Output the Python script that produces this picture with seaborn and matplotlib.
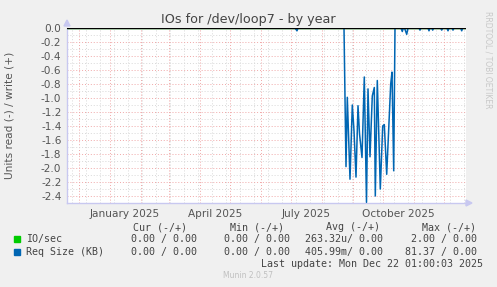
import numpy as np
import pandas as pd
import matplotlib
matplotlib.use("Agg")
import matplotlib.pyplot as plt
import matplotlib.dates as mdates
from matplotlib.patches import Rectangle
import seaborn as sns

# ---------------- data ----------------
# day offsets relative to 2025-01-01 and read values (plotted negative)
req_days = [-43, 185, 187, 188, 234, 234.6, 236, 237.3, 240, 242.3, 244, 246, 248, 249.5, 252,
            254.3, 256.5, 258, 260, 262.3, 264.3, 265.3, 267.3, 270.3, 272.7, 274.3, 276.7,
            280.7, 282, 283.7, 285,
            291, 292.3, 293.3, 294.5, 296.7, 298,
            309, 310, 311, 318, 319, 320, 321.8, 322.7, 323.6,
            330.7, 331.7, 332.7, 337, 338, 339, 342, 343, 344, 350.7, 351.7, 352.7, 356]
req_vals = [0.0, 0.0, -0.04, 0.0, 0.0, -0.6, -1.98, -0.99, -2.16, -1.10, -1.47, -2.13, -1.11,
            -1.51, -1.85, -0.70, -2.49, -0.87, -1.84, -0.97, -0.85, -2.40, -0.75, -2.30, -1.40,
            -1.38, -2.09, -0.80, -0.63, -2.04, 0.0,
            0.0, -0.05, 0.0, 0.0, -0.09, 0.0,
            0.0, -0.03, 0.0, 0.0, -0.04, 0.0, 0.0, -0.03, 0.0,
            0.0, -0.03, 0.0, 0.0, -0.04, 0.0, 0.0, -0.03, 0.0, 0.0, -0.04, 0.0, 0.0]
io_days = [-43, 356]
io_vals = [0.0, 0.0]

ytick_vals = [0.0, -0.2, -0.4, -0.6, -0.8, -1.0, -1.2, -1.4, -1.6, -1.8, -2.0, -2.2, -2.4]
ytick_labels = ["0.0", "-0.2", "-0.4", "-0.6", "-0.8", "-1.0", "-1.2", "-1.4", "-1.6",
                "-1.8", "-2.0", "-2.2", "-2.4"]
month_labels = ["January 2025", "April 2025", "July 2025", "October 2025"]
month_label_dates = ["2025-01-16", "2025-04-16", "2025-07-16", "2025-10-16"]

legend_names = ["IO/sec", "Req Size (KB)"]
legend_colors = ["#00CC00", "#0066B3"]
legend_headers = ["Cur (-/+)", "Min (-/+)", "Avg (-/+)", "Max (-/+)"]
legend_rows = [["0.00 / 0.00", "0.00 / 0.00", "263.32u/ 0.00", "2.00 / 0.00"],
               ["0.00 / 0.00", "0.00 / 0.00", "405.99m/ 0.00", "81.37 / 0.00"]]
title = "IOs for /dev/loop7 - by year"
ylabel = "Units read (-) / write (+)"
last_update = "Last update: Mon Dec 22 01:00:03 2025"
footer = "Munin 2.0.57"
side = "RRDTOOL / TOBI OETIKER"

# ---------------- figure ----------------
sns.set_style("white")
plt.rcParams["axes.unicode_minus"] = False
plt.rcParams["font.family"] = ["DejaVu Sans"]

W, H = 497, 287
fig = plt.figure(figsize=(W / 100, H / 100), dpi=100, facecolor="#F0F0F0")

def fx(x):
    return x / W

def fy(y):
    return 1 - y / H

L, R, T, B = 67, 466, 28, 203
ax = fig.add_axes([fx(L), fy(B), fx(R) - fx(L), fy(T) - fy(B)])
ax.set_facecolor("white")

base = pd.Timestamp("2025-01-01")
req_df = pd.DataFrame({"date": base + pd.to_timedelta(req_days, unit="D"),
                       "value": req_vals})
io_df = pd.DataFrame({"date": base + pd.to_timedelta(io_days, unit="D"),
                      "value": io_vals})

sns.lineplot(data=io_df, x="date", y="value", ax=ax, color=legend_colors[0],
             linewidth=1.0, zorder=3)
sns.lineplot(data=req_df, x="date", y="value", ax=ax, color=legend_colors[1],
             linewidth=1.1, zorder=4)
ax.axhline(0, color="black", linewidth=1.0, zorder=5)

ax.set_xlim(base + pd.Timedelta(days=-43), base + pd.Timedelta(days=356))
ax.set_ylim(-2.5, 0.0)

# grid
ax.set_yticks(ytick_vals)
ax.set_yticklabels(ytick_labels)
ax.set_yticks(np.arange(-2.5, 0.0, 0.1), minor=True)
ax.xaxis.set_major_locator(mdates.MonthLocator())
ax.xaxis.set_minor_locator(mdates.WeekdayLocator(byweekday=mdates.SU, interval=2))
ax.xaxis.set_major_formatter(plt.NullFormatter())
ax.grid(which="minor", color="#D8D8D8", linestyle=(0, (1, 2)), linewidth=0.7, zorder=0)
ax.grid(which="major", color="#F0A8A8", linestyle=(0, (1, 2)), linewidth=0.7, zorder=1)
ax.set_axisbelow(True)

ax.tick_params(axis="y", which="both", length=0, labelsize=7.6, labelcolor="#555555", pad=4)
ax.tick_params(axis="x", which="major", length=3, color="#E88080", width=0.8, direction="out")
ax.tick_params(axis="x", which="minor", length=2, color="#BBBBBB", width=0.8, direction="out")

for d, lab in zip(month_label_dates, month_labels):
    ax.text(pd.Timestamp(d), -0.035, lab, transform=ax.get_xaxis_transform(),
            ha="center", va="top", fontsize=7.6, color="#555555")

ax.set_xlabel("")
ax.set_ylabel("")
for s in ["top", "right"]:
    ax.spines[s].set_visible(False)
for s in ["left", "bottom"]:
    ax.spines[s].set_color("#C8C8F0")
    ax.spines[s].set_linewidth(1.0)

# axis arrows
fig.patches.append(plt.Polygon([[fx(L - 3), fy(T - 2)], [fx(L + 3), fy(T - 2)], [fx(L), fy(T - 8)]],
                               closed=True, transform=fig.transFigure, color="#C8C8F0"))
fig.patches.append(plt.Polygon([[fx(R), fy(B - 3)], [fx(R), fy(B + 3)], [fx(R + 6), fy(B)]],
                               closed=True, transform=fig.transFigure, color="#C8C8F0"))

# texts
fig.text(fx(248), fy(19), title, ha="center", va="center", fontsize=9.2, color="#444444")
fig.text(fx(10), fy(115), ylabel, ha="center", va="center", rotation=90,
         fontsize=7.6, color="#555555")
fig.text(fx(488), fy(60), side, ha="center", va="center", rotation=270,
         fontsize=5.5, color="#C8C8C8")

mono = "DejaVu Sans Mono"
mfs = 7.2
header_right = [187, 284, 380, 476]
value_right = [197, 290, 383, 477]
for h, xr in zip(legend_headers, header_right):
    fig.text(fx(xr), fy(227), h, ha="right", va="center", family=mono, fontsize=mfs,
             color="#444444")
row_y = [239, 252]
for name, col, vals, y in zip(legend_names, legend_colors, legend_rows, row_y):
    fig.patches.append(Rectangle((fx(14), fy(y + 3)), fx(6), 6 / H, transform=fig.transFigure,
                                 color=col))
    fig.text(fx(26), fy(y), name, ha="left", va="center", family=mono, fontsize=mfs,
             color="#444444")
    for v, xr in zip(vals, value_right):
        fig.text(fx(xr), fy(y), v, ha="right", va="center", family=mono, fontsize=mfs,
                 color="#444444")
fig.text(fx(483), fy(264), last_update, ha="right", va="center", family=mono, fontsize=mfs,
         color="#444444")
fig.text(fx(248), fy(276), footer, ha="center", va="center", fontsize=5.5, color="#C0C0C0")

fig.savefig("out.png", dpi=100, facecolor=fig.get_facecolor())
